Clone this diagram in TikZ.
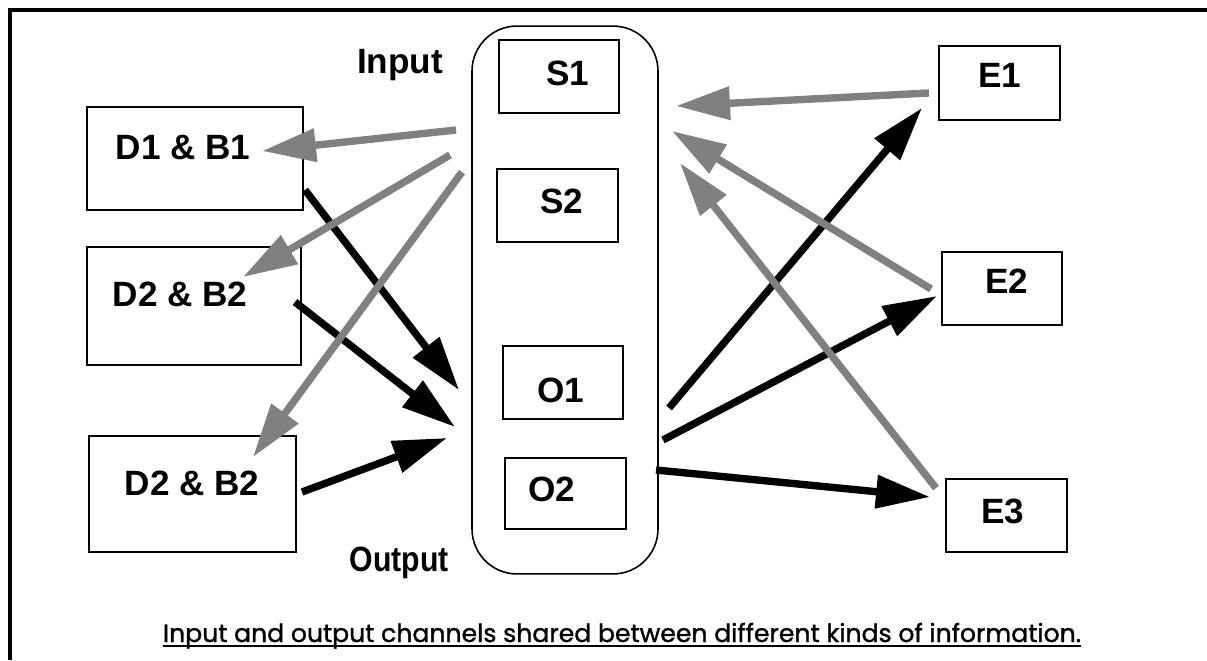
\documentclass[tikz,border=0pt]{standalone}
\usepackage{fontspec}
\setmainfont{Liberation Sans}
\newfontfamily\capfont{Poppins}[FakeBold=1.2]
\usetikzlibrary{arrows.meta}
\tikzset{
  box/.style={draw,line width=0.9pt,inner sep=0pt},
  lbl/.style={font=\fontsize{20}{24}\selectfont\bfseries,anchor=base,inner sep=0pt},
  inflow/.style={gray,line width=4.2pt,-{Triangle[length=1.08cm,width=0.64cm]}},
  outflow/.style={black,line width=4.2pt,-{Triangle[length=1.08cm,width=0.64cm]}}
}
\begin{document}
\begin{tikzpicture}[x=0.02cm,y=-0.02cm,line join=miter]
		\useasboundingbox (0,0) rectangle (1207,660);
		\draw[line width=2.3pt] (10,660)--(10,10)--(1207,10);
		% channel column
		\node[box,rounded corners=0.9cm,minimum width=3.72cm,minimum height=10.96cm] (chan) at (565,300) {};
		\node[box,minimum width=2.4cm,minimum height=1.46cm] (s1) at (559,76.5) {};
		\node[box,minimum width=2.42cm,minimum height=1.46cm] (s2) at (557.5,205.5) {};
		\node[box,minimum width=2.4cm,minimum height=1.46cm] (o1) at (563,382.5) {};
		\node[box,minimum width=2.42cm,minimum height=1.42cm] (o2) at (565.5,493.5) {};
		\node[lbl] (s1t) at (568,85) {S1};
		\node[lbl] (s2t) at (562,213) {S2};
		\node[lbl] (o1t) at (561,402) {O1};
		\node[lbl] (o2t) at (552,501) {O2};
		\node[lbl] (inp) at (400,73) {Input};
		\node[lbl,xscale=0.86,transform shape] (outp) at (399,571) {Output};
		% left boxes
		\node[box,minimum width=4.32cm,minimum height=2.06cm] (d1) at (195,158.5) {};
		\node[box,minimum width=4.28cm,minimum height=2.36cm] (d2) at (194,306) {};
		\node[box,minimum width=4.14cm,minimum height=2.32cm] (d3) at (192.5,494) {};
		\node[lbl] (d1t) at (183,159) {D1 \& B1};
		\node[lbl] (d2t) at (180,306) {D2 \& B2};
		\node[lbl] (d3t) at (192,495) {D2 \& B2};
		% right boxes
		\node[box,minimum width=2.42cm,minimum height=1.48cm] (e1) at (999.5,83) {};
		\node[box,minimum width=2.4cm,minimum height=1.46cm] (e2) at (1002,288.5) {};
		\node[box,minimum width=2.42cm,minimum height=1.46cm] (e3) at (1006.5,515.5) {};
		\node[lbl] (e1t) at (1000,87) {E1};
		\node[lbl] (e2t) at (1007,293) {E2};
		\node[lbl] (e3t) at (1003,523) {E3};
		% arrow ends
		\coordinate (ia) at (456,130); \coordinate (ib) at (450,155); \coordinate (ic) at (462,172);
		\coordinate (da) at (262,151); \coordinate (db) at (243,277); \coordinate (dc) at (253,457);
		\coordinate (ua) at (305,190); \coordinate (ub) at (295,302); \coordinate (uc) at (302,492);
		\coordinate (oa) at (459,390); \coordinate (ob) at (455,427); \coordinate (oc) at (447,438);
		\coordinate (ra) at (669,408); \coordinate (rb) at (663,440); \coordinate (rc) at (656,470);
		\coordinate (ea) at (922,108); \coordinate (eb) at (937,296); \coordinate (ec) at (930,497);
		\coordinate (fa) at (929,93); \coordinate (fb) at (931,289); \coordinate (fc) at (936,488);
		\coordinate (ga) at (676,106); \coordinate (gb) at (672,131); \coordinate (gc) at (680,163);
		\draw[outflow] (ua)--(oa);
		\draw[outflow] (ub)--(ob);
		\draw[outflow] (uc)--(oc);
		\draw[inflow] (ia)--(da);
		\draw[inflow] (ib)--(db);
		\draw[inflow] (ic)--(dc);
		\draw[outflow] (ra)--(ea);
		\draw[outflow] (rb)--(eb);
		\draw[outflow] (rc)--(ec);
		\draw[inflow] (fa)--(ga);
		\draw[inflow] (fb)--(gb);
		\draw[inflow] (fc)--(gc);
		% caption
		\node[anchor=base,inner sep=0pt,font=\capfont\fontsize{14.3}{17}\selectfont] (cap) at (622,642) {Input and output channels shared between different kinds of information.};
		\draw[line width=1pt] ([yshift=-0.08cm]cap.base west)--([yshift=-0.08cm]cap.base east);
\end{tikzpicture}
\end{document}
